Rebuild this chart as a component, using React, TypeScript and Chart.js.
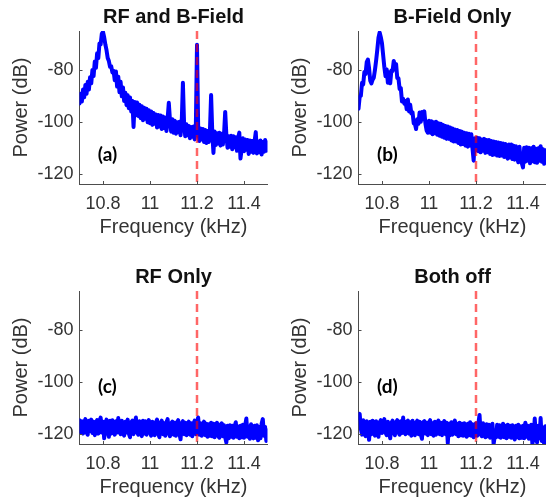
import React, { useEffect, useRef } from "react";
import { Chart, registerables } from "chart.js";

Chart.register(...registerables);

// ---------- data ----------
const FREQ_KHZ = [
  10.700, 10.705, 10.710, 10.715, 10.720, 10.725, 10.730, 10.735, 10.740, 10.745,
  10.750, 10.755, 10.760, 10.765, 10.770, 10.775, 10.780, 10.785, 10.790, 10.795,
  10.800, 10.805, 10.810, 10.815, 10.820, 10.825, 10.830, 10.835, 10.840, 10.845,
  10.850, 10.855, 10.860, 10.865, 10.870, 10.875, 10.880, 10.885, 10.890, 10.895,
  10.900, 10.905, 10.910, 10.915, 10.920, 10.925, 10.930, 10.935, 10.940, 10.945,
  10.950, 10.955, 10.960, 10.965, 10.970, 10.975, 10.980, 10.985, 10.990, 10.995,
  11.000, 11.005, 11.010, 11.015, 11.020, 11.025, 11.030, 11.035, 11.040, 11.045,
  11.050, 11.055, 11.060, 11.065, 11.070, 11.075, 11.080, 11.085, 11.090, 11.095,
  11.100, 11.105, 11.110, 11.115, 11.120, 11.125, 11.130, 11.135, 11.140, 11.145,
  11.150, 11.155, 11.160, 11.165, 11.170, 11.175, 11.180, 11.185, 11.190, 11.195,
  11.200, 11.205, 11.210, 11.215, 11.220, 11.225, 11.230, 11.235, 11.240, 11.245,
  11.250, 11.255, 11.260, 11.265, 11.270, 11.275, 11.280, 11.285, 11.290, 11.295,
  11.300, 11.305, 11.310, 11.315, 11.320, 11.325, 11.330, 11.335, 11.340, 11.345,
  11.350, 11.355, 11.360, 11.365, 11.370, 11.375, 11.380, 11.385, 11.390, 11.395,
  11.400, 11.405, 11.410, 11.415, 11.420, 11.425, 11.430, 11.435, 11.440, 11.445,
  11.450, 11.455, 11.460, 11.465, 11.470, 11.475, 11.480, 11.485, 11.490, 11.495, 11.500,
];

const POWER_RF_AND_B = [
  -93.0, -89.2, -92.2, -87.6, -90.6, -85.8, -89.2, -84.6, -87.6, -82.8,
  -85.2, -80.0, -82.4, -76.8, -79.2, -73.6, -75.4, -69.8, -70.2, -66.0,
  -65.4, -67.4, -70.2, -72.4, -75.4, -76.6, -78.8, -78.6, -81.0, -80.4,
  -84.0, -80.6, -86.4, -82.6, -88.6, -84.6, -90.2, -86.8, -92.0, -88.8,
  -93.6, -89.8, -94.8, -90.6, -96.0, -92.0, -102.0, -92.4, -97.4, -92.6,
  -97.8, -93.4, -98.6, -94.0, -99.4, -94.6, -98.8, -95.0, -100.2, -95.6,
  -100.6, -96.0, -101.2, -96.6, -100.8, -97.2, -102.2, -97.4, -101.8, -97.6,
  -102.8, -98.0, -102.4, -98.4, -103.6, -98.8, -92.7, -99.4, -103.8, -99.0,
  -104.2, -99.6, -104.6, -100.2, -104.0, -100.0, -105.2, -100.4, -85.0, -100.8,
  -105.6, -101.0, -105.2, -101.6, -106.4, -102.0, -105.8, -101.8, -106.8, -102.6,
  -70.3, -102.2, -107.4, -102.6, -106.8, -102.8, -107.8, -103.2, -108.2, -103.6,
  -107.8, -103.4, -89.7, -104.2, -112.0, -103.8, -109.0, -104.4, -108.4, -104.2,
  -109.2, -104.6, -108.8, -104.8, -96.2, -105.2, -110.0, -105.6, -109.6, -105.4,
  -110.6, -105.6, -109.8, -106.0, -111.2, -106.2, -104.2, -114.2, -110.4, -106.4,
  -111.4, -106.8, -110.8, -107.0, -112.4, -107.2, -111.6, -107.4, -112.0, -107.6,
  -104.0, -112.2, -107.6, -111.8, -107.2, -112.6, -107.8, -111.6, -107.0, -111.2, -108.0,
];

const POWER_B_ONLY = [
  -95.0, -90.4, -90.0, -85.0, -85.6, -80.8, -81.6, -77.0, -76.0, -79.4,
  -84.2, -85.2, -83.8, -83.0, -80.0, -76.4, -72.2, -67.6, -65.6, -67.4,
  -69.8, -74.4, -79.0, -82.4, -79.8, -85.0, -81.0, -85.2, -80.2, -80.4,
  -76.6, -78.4, -77.8, -83.2, -83.2, -87.4, -87.0, -92.2, -91.2, -93.0,
  -92.0, -95.2, -91.4, -96.0, -93.4, -96.8, -96.4, -100.6, -100.8, -102.8,
  -99.0, -100.8, -96.4, -100.0, -96.2, -99.0, -96.0, -100.8, -103.4, -104.2,
  -99.6, -104.2, -99.8, -104.8, -100.2, -104.4, -100.0, -105.0, -100.6, -105.4,
  -100.8, -105.8, -101.2, -106.2, -101.6, -106.6, -101.8, -106.6, -102.2, -107.2,
  -102.6, -107.6, -103.0, -107.6, -103.2, -108.2, -103.6, -108.8, -103.8, -108.6,
  -104.2, -109.2, -104.4, -109.6, -104.6, -109.2, -104.8, -110.2, -115.0, -106.4,
  -111.0, -106.2, -111.4, -106.4, -111.8, -106.8, -111.2, -106.6, -112.0, -107.0,
  -111.8, -107.0, -112.4, -107.4, -112.8, -107.6, -112.6, -107.8, -113.0, -108.0,
  -113.2, -108.2, -113.0, -108.4, -113.6, -108.6, -112.8, -114.2, -108.8, -113.8,
  -108.8, -114.4, -109.2, -114.6, -109.4, -113.8, -115.6, -109.6, -114.8, -116.0,
  -117.6, -110.0, -115.4, -109.8, -115.0, -110.0, -116.0, -110.2, -115.2, -109.6,
  -115.6, -110.4, -115.8, -110.2, -115.0, -109.4, -115.4, -110.6, -116.2, -111.0, -115.0,
];

const POWER_RF_ONLY = [
  -114.8, -119.4, -115.2, -120.0, -115.6, -114.4, -119.6, -120.4, -115.0, -119.0,
  -114.6, -119.8, -115.4, -120.6, -115.8, -114.8, -120.0, -115.2, -113.8, -119.6,
  -115.4, -121.8, -116.0, -114.6, -119.4, -121.2, -115.0, -120.0, -114.8, -118.8,
  -120.4, -115.2, -119.6, -114.0, -119.2, -120.2, -115.0, -119.4, -120.8, -115.4,
  -119.6, -114.6, -120.0, -121.4, -115.6, -115.0, -120.2, -116.2, -113.8, -119.4,
  -120.4, -115.2, -119.6, -121.0, -115.0, -120.0, -115.2, -120.4, -116.2, -114.8,
  -119.6, -120.8, -115.4, -119.6, -120.6, -115.6, -114.6, -120.0, -121.4, -115.8,
  -115.0, -120.2, -116.0, -120.8, -115.6, -114.4, -119.8, -121.0, -116.0, -115.4,
  -120.4, -115.8, -120.8, -115.6, -114.8, -120.0, -122.2, -116.0, -115.2, -120.2,
  -115.8, -120.6, -116.2, -115.4, -120.4, -116.0, -121.0, -116.2, -115.0, -120.2,
  -115.6, -113.8, -120.4, -116.0, -120.8, -116.4, -115.4, -120.6, -116.2, -121.2,
  -116.4, -120.8, -115.8, -121.0, -116.2, -121.4, -116.6, -115.8, -120.8, -121.6,
  -116.6, -116.0, -121.0, -116.8, -121.4, -123.4, -117.0, -121.8, -116.8, -121.2,
  -117.0, -121.6, -117.2, -115.6, -121.2, -117.2, -121.8, -117.0, -121.4, -116.6,
  -121.6, -116.8, -114.2, -121.2, -117.2, -122.0, -116.4, -121.0, -121.8, -117.0,
  -121.6, -116.8, -122.6, -117.4, -121.8, -116.2, -114.4, -120.8, -117.4, -122.8, -118.8,
];

const POWER_BOTH_OFF = [
  -114.0, -112.4, -118.2, -120.4, -114.8, -119.6, -121.0, -115.2, -119.2, -122.4,
  -115.4, -120.2, -115.0, -119.4, -120.8, -115.2, -119.2, -121.2, -115.6, -114.8,
  -119.8, -115.8, -114.4, -119.6, -120.6, -115.4, -119.6, -121.8, -115.8, -115.0,
  -119.8, -120.6, -115.6, -114.8, -119.6, -120.4, -115.2, -119.8, -113.8, -119.2,
  -120.2, -115.4, -115.0, -120.0, -115.6, -120.8, -115.0, -119.8, -120.6, -115.8,
  -115.0, -120.2, -115.4, -120.4, -122.0, -115.6, -115.2, -120.0, -115.8, -120.6,
  -115.6, -114.8, -120.2, -116.0, -120.8, -115.4, -120.4, -116.0, -115.0, -120.2,
  -115.8, -120.6, -116.2, -115.2, -120.2, -115.8, -123.6, -116.2, -120.6, -115.6,
  -120.4, -116.0, -115.0, -120.2, -116.2, -121.0, -115.8, -120.6, -116.2, -120.8,
  -116.0, -120.4, -121.2, -116.2, -120.6, -115.6, -120.8, -116.4, -121.4, -116.6,
  -116.0, -120.8, -116.2, -112.8, -120.4, -121.0, -116.0, -120.6, -121.4, -116.4,
  -121.0, -116.6, -121.6, -120.6, -116.2, -124.0, -120.8, -121.4, -116.6, -121.2,
  -116.8, -121.6, -120.8, -116.2, -121.4, -117.0, -121.8, -116.6, -121.2, -117.0,
  -121.6, -116.8, -121.2, -122.2, -117.0, -121.4, -116.6, -121.8, -117.2, -121.6,
  -117.0, -121.8, -115.8, -121.2, -117.0, -122.0, -117.4, -116.6, -124.0, -121.4,
  -114.2, -121.8, -123.4, -117.0, -121.8, -114.0, -122.8, -117.6, -124.0, -117.2, -122.2,
];

const MARKER_FREQ = 11.2;
const X_MIN = 10.7;
const X_MAX = 11.5;
const Y_MIN = -124;
const Y_MAX = -65;
const X_TICKS = [10.8, 11, 11.2, 11.4];
const Y_TICKS = [-80, -100, -120];

const PANEL_TITLES = ["RF and B-Field", "B-Field Only", "RF Only", "Both off"];
const PANEL_TAGS = ["(a)", "(b)", "(c)", "(d)"];
const PANEL_SERIES = [POWER_RF_AND_B, POWER_B_ONLY, POWER_RF_ONLY, POWER_BOTH_OFF];
const X_LABEL = "Frequency (kHz)";
const Y_LABEL = "Power (dB)";

// ---------- layout / style ----------
const FONT = '"Liberation Sans", Arial, Helvetica, sans-serif';
const CANVAS_W = 280;
const CANVAS_H = 250;
const PANEL_POS = [
  { left: 0, top: 0 },
  { left: 279, top: 0 },
  { left: 0, top: 260 },
  { left: 279, top: 260 },
];
const TAG_POS = [
  { x: 10.819, y: -112.8 },
  { x: 10.823, y: -112.8 },
  { x: 10.819, y: -102.1 },
  { x: 10.823, y: -102.1 },
];

const annotPlugin = {
  id: "annot",
  afterDraw(chart: any, _args: any, opts: any) {
    const { ctx, chartArea, scales } = chart;
    const xs = scales.x;
    const ys = scales.y;
    ctx.save();
    // inward tick marks
    ctx.strokeStyle = "#4d4d4d";
    ctx.lineWidth = 1;
    ctx.beginPath();
    X_TICKS.forEach((v) => {
      const px = Math.round(xs.getPixelForValue(v)) + 0.5;
      ctx.moveTo(px, chartArea.bottom);
      ctx.lineTo(px, chartArea.bottom - 3);
    });
    Y_TICKS.forEach((v) => {
      const py = Math.round(ys.getPixelForValue(v)) + 0.5;
      ctx.moveTo(chartArea.left, py);
      ctx.lineTo(chartArea.left + 3, py);
    });
    ctx.stroke();
    // title
    ctx.fillStyle = "#111";
    ctx.font = `bold 20px ${FONT}`;
    ctx.textAlign = "center";
    ctx.textBaseline = "middle";
    ctx.fillText(opts.title, (chartArea.left + chartArea.right) / 2, 17.5);
    // panel tag
    ctx.fillStyle = "#000";
    ctx.font = "bold 19px Lato, Calibri, sans-serif";
    ctx.fillText(opts.tag, xs.getPixelForValue(opts.tx), ys.getPixelForValue(opts.ty));
    ctx.restore();
  },
};

function Panel({ idx }: { idx: number }) {
  const ref = useRef<HTMLCanvasElement>(null);
  useEffect(() => {
    if (!ref.current) return;
    const series = PANEL_SERIES[idx];
    const chart = new Chart(ref.current, {
      type: "line",
      data: {
        datasets: [
          {
            data: [
              { x: MARKER_FREQ, y: Y_MAX },
              { x: MARKER_FREQ, y: Y_MIN },
            ],
            borderColor: "rgba(255,0,0,0.6)",
            borderWidth: 2.5,
            borderDash: [8, 5],
            pointRadius: 0,
            order: 0,
          },
          {
            data: FREQ_KHZ.map((f, i) => ({ x: f, y: series[i] })),
            borderColor: "#0000ff",
            borderWidth: 4,
            borderJoinStyle: "round",
            borderCapStyle: "round",
            pointRadius: 0,
            tension: 0,
            order: 1,
          },
        ],
      } as any,
      options: {
        animation: false,
        responsive: false,
        maintainAspectRatio: false,
        layout: { padding: { left: 0, top: 31, right: 12.5, bottom: 0 } },
        plugins: {
          legend: { display: false },
          tooltip: { enabled: false },
          annot: {
            title: PANEL_TITLES[idx],
            tag: PANEL_TAGS[idx],
            tx: TAG_POS[idx].x,
            ty: TAG_POS[idx].y,
          },
        } as any,
        scales: {
          x: {
            type: "linear",
            min: X_MIN,
            max: X_MAX,
            afterBuildTicks: (s: any) => {
              s.ticks = X_TICKS.map((v) => ({ value: v }));
            },
            afterFit: (s: any) => {
              s.height = 66;
            },
            grid: { display: false, drawTicks: false },
            border: { display: true, color: "#4d4d4d", width: 1 },
            ticks: {
              font: { family: FONT, size: 18 },
              color: "#333",
              padding: 9,
              maxRotation: 0,
              autoSkip: false,
              callback: (v: any) => String(v),
            },
            title: {
              display: true,
              text: X_LABEL,
              font: { family: FONT, size: 20 },
              color: "#333",
              padding: { top: 0, bottom: 11 },
            },
          },
          y: {
            type: "linear",
            min: Y_MIN,
            max: Y_MAX,
            afterBuildTicks: (s: any) => {
              s.ticks = Y_TICKS.map((v) => ({ value: v }));
            },
            afterFit: (s: any) => {
              s.width = 79.5;
            },
            grid: { display: false, drawTicks: false },
            border: { display: true, color: "#4d4d4d", width: 1 },
            ticks: {
              font: { family: FONT, size: 18 },
              color: "#333",
              padding: 6,
              autoSkip: false,
              callback: (v: any) => String(v),
            },
            title: {
              display: true,
              text: Y_LABEL,
              font: { family: FONT, size: 20 },
              color: "#333",
              padding: { top: 9, bottom: 0 },
            },
          },
        },
      } as any,
      plugins: [annotPlugin],
    });
    return () => chart.destroy();
  }, [idx]);

  const pos = PANEL_POS[idx];
  return (
    <canvas
      ref={ref}
      width={CANVAS_W}
      height={CANVAS_H}
      style={{
        position: "absolute",
        left: pos.left,
        top: pos.top,
        width: CANVAS_W,
        height: CANVAS_H,
      }}
    />
  );
}

export default function App() {
  return (
    <div
      style={{
        position: "absolute",
        left: 0,
        top: 0,
        width: 546,
        height: 501,
        overflow: "hidden",
        background: "#ffffff",
      }}
    >
      {[0, 1, 2, 3].map((i) => (
        <Panel key={i} idx={i} />
      ))}
    </div>
  );
}
